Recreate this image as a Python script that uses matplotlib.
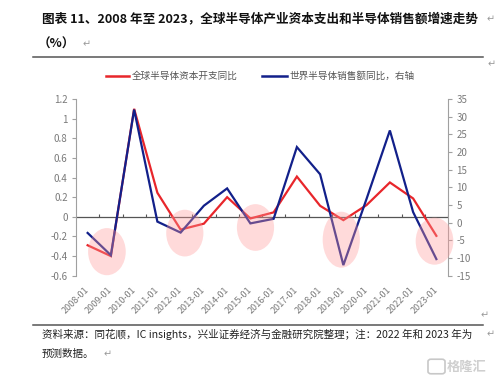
import numpy as np
import matplotlib
matplotlib.use("Agg")
import matplotlib.pyplot as plt
from matplotlib.patches import Ellipse, FancyBboxPatch
from matplotlib.lines import Line2D

# ---------------- data ----------------
categories = ["2008-01", "2009-01", "2010-01", "2011-01", "2012-01", "2013-01",
              "2014-01", "2015-01", "2016-01", "2017-01", "2018-01", "2019-01",
              "2020-01", "2021-01", "2022-01", "2023-01"]
capex_yoy = [-0.29, -0.40, 1.10, 0.245, -0.13, -0.07, 0.20, -0.017, 0.045,
             0.41, 0.112, -0.034, 0.12, 0.35, 0.187, -0.194]
sales_yoy = [-2.9, -9.2, 32.0, 0.3, -2.8, 4.8, 9.7, -0.2, 1.1,
             21.4, 13.7, -12.0, 6.8, 26.1, 3.0, -10.3]
left_ticks = [-0.6, -0.4, -0.2, 0, 0.2, 0.4, 0.6, 0.8, 1.0, 1.2]
right_ticks = [-15, -10, -5, 0, 5, 10, 15, 20, 25, 30, 35]
name_capex = "全球半导体资本开支同比"
name_sales = "世界半导体销售额同比，右轴"
title_1 = "图表 11、2008 年至 2023，全球半导体产业资本支出和半导体销售额增速走势"
title_2 = "（%）"
source_1 = "资料来源：同花顺，IC insights，兴业证券经济与金融研究院整理；注：2022 年和 2023 年为"
source_2 = "预测数据。"

# ---------------- layout ----------------
W, H = 503, 386
CJK = ["Noto Sans CJK SC", "DejaVu Sans"]
RED = "#E8262B"
BLUE = "#12208A"
GREY = "#7a7a7a"

fig = plt.figure(figsize=(W / 100, H / 100), dpi=100)
fig.patch.set_facecolor("white")

def fx(x):
    return x / W

def fy(y):
    return 1 - y / H

ax1 = fig.add_axes([fx(76), fy(275.7), fx(448) - fx(76), fy(99) - fy(275.7)])
ax2 = ax1.twinx()

x = np.arange(len(categories))
ax1.plot(x, capex_yoy, color=RED, lw=1.6, zorder=3, solid_joinstyle="miter")
ax2.plot(x, sales_yoy, color=BLUE, lw=1.6, zorder=3, solid_joinstyle="miter")

ax1.set_xlim(-0.5, len(categories) - 0.5)
ax1.set_ylim(-0.6, 1.2)
ax2.set_ylim(-15, 35)

# zero line with category boundary ticks
ax1.axhline(0, color="#555555", lw=0.9, zorder=2)
ax1.vlines(np.arange(len(categories)) + 0.5, 0, 0.03, color="#555555", lw=0.8, zorder=2)

for s in ["top", "bottom", "right"]:
    ax1.spines[s].set_visible(False)
for s in ["top", "bottom", "left"]:
    ax2.spines[s].set_visible(False)
ax1.spines["left"].set_color("#a0a0a0")
ax2.spines["right"].set_color("#a0a0a0")

ax1.set_yticks(left_ticks)
ax1.set_yticklabels([f"{np.round(v, 1):g}" for v in left_ticks])
ax2.set_yticks(right_ticks)
ax2.set_yticklabels([f"{v:g}" for v in right_ticks])
ax1.tick_params(axis="y", length=3, width=0.8, color="#a0a0a0", labelsize=7,
                labelcolor=GREY, pad=3)
ax2.tick_params(axis="y", length=3, width=0.8, color="#a0a0a0", labelsize=7,
                labelcolor=GREY, pad=3)

ax1.set_xticks(x)
ax1.set_xticklabels(categories, rotation=45, ha="right", va="center",
                    rotation_mode="anchor")
ax1.tick_params(axis="x", length=0, labelsize=6.5, labelcolor=GREY, pad=9)
for lab in ax1.get_xticklabels() + ax1.get_yticklabels() + ax2.get_yticklabels():
    lab.set_family(CJK)

# highlight ellipses (index centre, value centre, width, height)
highlights = [(0.83, -0.355, 1.62, 0.48), (4.18, -0.166, 1.6, 0.476),
              (7.22, -0.109, 1.6, 0.476), (10.91, -0.233, 1.6, 0.57),
              (14.92, -0.248, 1.62, 0.48)]
for cx, cy, w, h in highlights:
    e = Ellipse((cx, cy), w, h, transform=ax1.transData, facecolor="#ff9a9a",
                edgecolor="none", alpha=0.36, zorder=10, clip_on=False)
    ax2.add_patch(e)

# legend
fig.add_artist(Line2D([fx(106), fx(129)], [fy(75.7), fy(75.7)], color=RED, lw=1.8))
fig.text(fx(132), fy(75.7), name_capex, family=CJK, fontsize=6.9, color="#555555",
         va="center", ha="left")
fig.add_artist(Line2D([fx(262), fx(287)], [fy(75.7), fy(75.7)], color=BLUE, lw=1.8))
fig.text(fx(289), fy(75.7), name_sales, family=CJK, fontsize=6.9, color="#555555",
         va="center", ha="left")

renderer = fig.canvas.get_renderer()

def fit_text(t, target_w):
    bb = t.get_window_extent(renderer=renderer)
    t.set_fontsize(t.get_fontsize() * target_w / bb.width)

# titles
t1 = fig.text(fx(42), fy(19), title_1, family=CJK, fontsize=9.5, weight="bold",
              color="#111111", va="center", ha="left")
fit_text(t1, 438)
fig.text(fx(38), fy(44), title_2, family=CJK, fontsize=t1.get_fontsize(), weight="bold",
         color="#111111", va="center", ha="left")

# rules
fig.add_artist(Line2D([fx(33), fx(483)], [fy(57), fy(57)], color="#555555", lw=1.1))
fig.add_artist(Line2D([fx(33), fx(483)], [fy(325), fy(325)], color="#555555", lw=1.1))

# source
s1 = fig.text(fx(42), fy(334), source_1, family=CJK, fontsize=8, color="#222222",
              va="center", ha="left")
fit_text(s1, 433)
fig.text(fx(42), fy(354), source_2, family=CJK, fontsize=s1.get_fontsize(),
         color="#222222", va="center", ha="left")

# paragraph marks
for (px, py) in [(487, 19), (83, 44), (488, 64), (481, 315), (487, 334), (104, 354)]:
    fig.text(fx(px), fy(py), "↵", family=["DejaVu Sans"], fontsize=7, color="#9a9a9a",
             va="center", ha="left")

# watermark
fig.add_artist(FancyBboxPatch((fx(429), fy(373)), fx(15), fy(360) - fy(373),
                              boxstyle="round,pad=0.002,rounding_size=0.006",
                              transform=fig.transFigure, facecolor="none",
                              edgecolor="#c8c8c8", lw=1.2))
fig.text(fx(447), fy(366.5), "格隆汇", family=CJK, fontsize=9.5, color="#cfcfcf",
         va="center", ha="left", weight="bold")

fig.savefig("out.png", dpi=100, facecolor="white")
